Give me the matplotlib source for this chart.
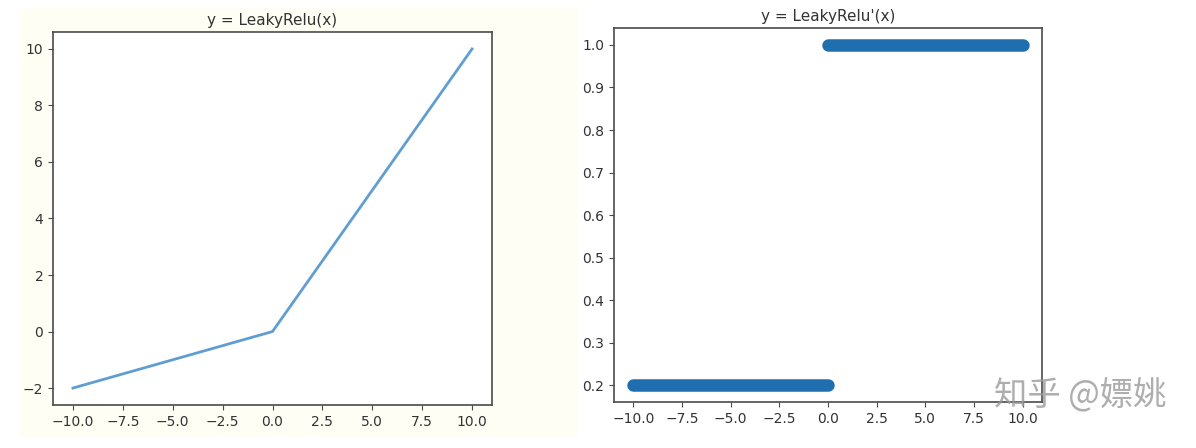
import matplotlib
matplotlib.use('Agg')
import matplotlib.pyplot as plt
from matplotlib.patches import Rectangle

# LeakyReLU (alpha = 0.2)
x_fn = [-10.0, 0.0, 10.0]
y_fn = [-2.0, 0.0, 10.0]

# derivative: two flat runs of dense points
x_neg = [-10.0, 0.0]
y_neg = [0.2, 0.2]
x_pos = [0.0, 10.0]
y_pos = [1.0, 1.0]

xticks = [-10.0, -7.5, -5.0, -2.5, 0.0, 2.5, 5.0, 7.5, 10.0]
yticks_left = [-2, 0, 2, 4, 6, 8, 10]
yticks_right = [0.2, 0.3, 0.4, 0.5, 0.6, 0.7, 0.8, 0.9, 1.0]

plt.rcParams['font.family'] = ['DejaVu Sans']
edge = '#4a4a4a'
txt = '#333333'

fig = plt.figure(figsize=(11.96, 4.48), dpi=100)
fig.patch.set_facecolor('white')
# cream screenshot backdrop behind the left panel
fig.add_artist(Rectangle((20 / 1196, 1 - 438 / 448), 558 / 1196, 430 / 448,
                         transform=fig.transFigure, facecolor='#fffef4',
                         edgecolor='none', zorder=-5))

W, H = 1196, 448
ax1 = fig.add_axes([53 / W, 1 - 405 / H, (492 - 53) / W, (405 - 32) / H])
ax2 = fig.add_axes([614 / W, 1 - 402 / H, (1042 - 614) / W, (402 - 28) / H])

ax1.plot(x_fn, y_fn, color='#4f94cd', linewidth=2, alpha=0.9)
ax1.set_xlim(-11, 11)
ax1.set_ylim(-2.6, 10.6)
ax1.set_xticks(xticks)
ax1.set_yticks(yticks_left)
ax1.set_title('y = LeakyRelu(x)', fontsize=11, color=txt, pad=5)

ax2.plot(x_neg, y_neg, color='#1f6fb0', linewidth=9, solid_capstyle='round')
ax2.plot(x_pos, y_pos, color='#1f6fb0', linewidth=9, solid_capstyle='round')
ax2.set_xlim(-11, 11)
ax2.set_ylim(0.16, 1.04)
ax2.set_xticks(xticks)
ax2.set_yticks(yticks_right)
ax2.set_title("y = LeakyRelu'(x)", fontsize=11, color=txt, pad=5)

for ax in (ax1, ax2):
    ax.set_facecolor('white')
    for s in ax.spines.values():
        s.set_color(edge)
        s.set_linewidth(1.2)
    ax.tick_params(colors=edge, labelcolor=txt, labelsize=10)

fig.text(1080 / W, 1 - 396 / H, '知乎 @嫖姚', family=['Noto Sans CJK SC', 'DejaVu Sans'],
         fontsize=24, color='#9a9a9a', alpha=0.8, ha='center', va='center')

fig.savefig('out.png', dpi=100)
